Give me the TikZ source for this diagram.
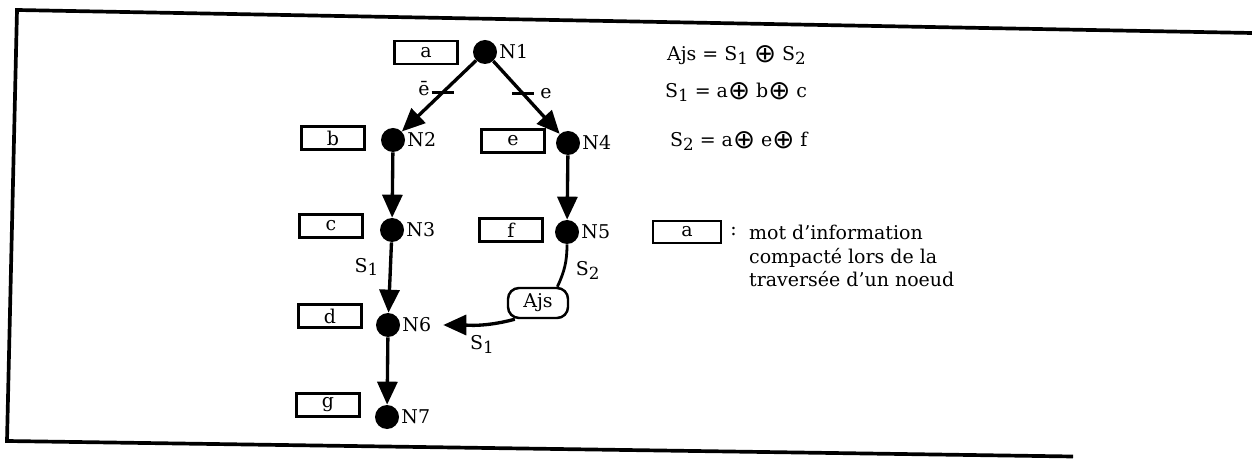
\documentclass[tikz,border=0pt]{standalone}
\usepackage{amsmath}
\usepackage{fontspec}
\setmainfont{DejaVu Serif}
\newfontfamily\symb{DejaVu Sans}
\newcommand{\ind}[1]{\raisebox{-0.4ex}{\fontsize{9.5}{9.5}\selectfont #1}}
\newcommand{\xor}{\raisebox{-0.15ex}{\symb\fontsize{15}{15}\selectfont ⊕}}
\usetikzlibrary{arrows.meta,positioning}

\begin{document}
\begin{tikzpicture}[font=\fontsize{10.8}{13.4}\selectfont,
  noeud/.style={circle,fill=black,inner sep=0pt,minimum size=0.48cm},
  nom/.style={inner sep=1pt},
  mot/.style={draw,line width=1.4pt,minimum width=1.26cm,minimum height=0.46cm,inner sep=0pt},
  fleche/.style={line width=1.9pt,-{Triangle[length=0.46cm,width=0.4cm]}},
  trait/.style={line width=1.6pt}]
            \useasboundingbox (0,0) rectangle (25.04,9.18);
            \draw[line width=2.1pt,line join=miter] (25.04,8.52)--(0.34,8.98)--(0.14,0.36)--(21.46,0.05);
            \node[noeud] (n1) at (9.70,8.14) {};
            \node[noeud] (n2) at (7.86,6.38) {};
            \node[noeud] (n4) at (11.36,6.32) {};
            \node[noeud] (n3) at (7.84,4.58) {};
            \node[noeud] (n5) at (11.34,4.54) {};
            \node[noeud] (n6) at (7.76,2.68) {};
            \node[noeud] (n7) at (7.74,0.84) {};
            \node[nom,right=0pt of n1] (l1) {N1};
            \node[nom,right=0pt of n2] (l2) {N2};
            \node[nom,right=0pt of n4] (l4) {N4};
            \node[nom,right=0pt of n3] (l3) {N3};
            \node[nom,right=0pt of n5] (l5) {N5};
            \node[nom,right=0pt of n6] (l6) {N6};
            \node[nom,right=0pt of n7] (l7) {N7};
            \node[mot] (a) at (8.52,8.13) {a};
            \node[mot] (b) at (6.66,6.42) {b};
            \node[mot] (e) at (10.26,6.36) {e};
            \node[mot] (c) at (6.62,4.66) {c};
            \node[mot] (f) at (10.22,4.58) {f};
            \node[mot] (d) at (6.60,2.86) {d};
            \node[mot] (g) at (6.56,1.08) {g};
            \node[draw,rounded corners=0.22cm,line width=1.4pt,minimum width=1.2cm,minimum height=0.6cm,inner sep=0pt] (ajs) at (10.76,3.12) {Ajs};
            \draw[fleche] (n1)--coordinate[pos=0.45] (k1) (n2);
            \draw[fleche] (n1)--coordinate[pos=0.45] (k2) (n4);
            \draw[trait] ([xshift=-0.22cm]k1)--([xshift=0.22cm]k1);
            \draw[trait] ([xshift=-0.22cm]k2)--([xshift=0.22cm]k2);
            \node[nom,anchor=east,yshift=0.08cm] (ebar) at ([xshift=-0.22cm]k1) {\=e};
            \node[nom,anchor=west] (enot) at ([xshift=0.3cm]k2) {e};
            \draw[fleche] (n2)--(n3);
            \draw[fleche] (n4)--(n5);
            \draw[fleche] (n3)--node[nom,pos=0.35,left=5pt] (s1a) {S\ind{1}} (n6);
            \draw[fleche] (n6)--(n7);
            \draw[trait] (n5) to[out=-90,in=65] node[nom,pos=0.6,right=5pt] (s2) {S\ind{2}} (ajs.40);
            \draw[fleche,shorten >=0.2cm] (ajs.215) to[out=195,in=0] node[nom,pos=0.4,below=4pt] (s1b) {S\ind{1}} (l6);
            \node[nom,anchor=west] (eq1) at (13.30,8.08) {Ajs = S\ind{1} \xor{} S\ind{2}};
            \node[nom,anchor=west] (eq2) at (13.26,7.34) {S\ind{1} = a\xor{} b\xor{} c};
            \node[nom,anchor=west] (eq3) at (13.36,6.36) {S\ind{2} = a\xor{} e\xor{} f};
            \node[mot,minimum width=1.36cm,minimum height=0.44cm] (leg) at (13.74,4.54) {a};
            \node[nom,right=0.12cm of leg] (colon) {:};
            \node[nom,align=left,anchor=west] (legtxt) at (14.94,4.06) {mot d'information\\compacté lors de la\\traversée d'un noeud};
        \end{tikzpicture}
\end{document}
